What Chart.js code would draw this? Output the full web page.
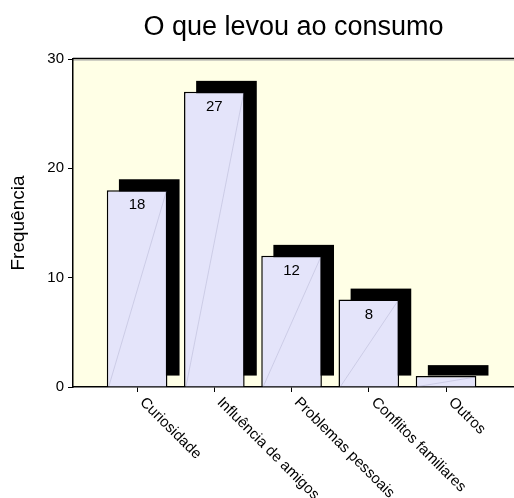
<!DOCTYPE html>
<html>
<head>
<meta charset="utf-8">
<script src="https://cdn.jsdelivr.net/npm/chart.js@4.4.1/dist/chart.umd.min.js"></script>
<style>
  html, body { margin: 0; padding: 0; background: #fff; }
  #wrap { width: 514px; height: 498px; }
</style>
</head>
<body>
<div id="wrap"><canvas id="chart" width="514" height="498"></canvas></div>
<script>
// chart data
const chartTitle = 'O que levou ao consumo';
const axisTitleY = 'Frequência';
const categories = ['Curiosidade', 'Influência de amigos', 'Problemas pessoais', 'Conflitos familiares', 'Outros'];
const frequencies = [18, 27, 12, 8, 1];
const yTicks = [0, 10, 20, 30];

const FONT = '"Liberation Sans", Arial, sans-serif';
const PLOT_BG = '#FFFFE6';
const BAR_FILL = '#E4E4FA';

// yellow plot area + top frame line
const plotBackground = {
  id: 'plotBackground',
  beforeDraw(chart) {
    const { ctx, chartArea: a } = chart;
    ctx.save();
    ctx.fillStyle = '#fff';
    ctx.fillRect(0, 0, chart.width, chart.height);
    ctx.fillStyle = PLOT_BG;
    ctx.fillRect(a.left, a.top, a.right - a.left, a.bottom - a.top);
    ctx.strokeStyle = '#000';
    ctx.lineWidth = 1.5;
    ctx.beginPath();
    ctx.moveTo(a.left, a.top - 0.5);
    ctx.lineTo(a.right, a.top - 0.5);
    ctx.stroke();
    ctx.strokeStyle = '#a0a0a0';
    ctx.lineWidth = 1;
    ctx.beginPath();
    ctx.moveTo(a.left, a.top + 1);
    ctx.lineTo(a.right, a.top + 1);
    ctx.stroke();
    ctx.restore();
  }
};

// black drop shadow behind every bar, shifted right and one unit up
const barShadow = {
  id: 'barShadow',
  beforeDatasetsDraw(chart) {
    const { ctx } = chart;
    const ys = chart.scales.y;
    const up = ys.getPixelForValue(0) - ys.getPixelForValue(1);
    ctx.save();
    ctx.fillStyle = '#000';
    chart.getDatasetMeta(0).data.forEach(bar => {
      const { x, y, base, width } = bar.getProps(['x', 'y', 'base', 'width'], true);
      const dx = width * 0.2;
      ctx.fillRect(x - width / 2 + dx, y - up, width, base - y);
    });
    ctx.restore();
  }
};

// faint diagonal inside bars + value labels
const barDecor = {
  id: 'barDecor',
  afterDatasetsDraw(chart) {
    const { ctx } = chart;
    const meta = chart.getDatasetMeta(0);
    ctx.save();
    meta.data.forEach((bar, i) => {
      const { x, y, base, width } = bar.getProps(['x', 'y', 'base', 'width'], true);
      ctx.strokeStyle = 'rgba(130,130,170,0.5)';
      ctx.lineWidth = 0.5;
      ctx.beginPath();
      ctx.moveTo(x - width / 2 + 2, base);
      ctx.lineTo(x + width / 2 - 1, y + 1);
      ctx.stroke();
      if (base - y > 25) {
        ctx.fillStyle = '#000';
        ctx.font = `15px ${FONT}`;
        ctx.textAlign = 'center';
        ctx.textBaseline = 'middle';
        ctx.fillText(String(frequencies[i]), x, y + 15);
      }
    });
    ctx.restore();
  }
};

// category labels slanted down to the right
const slantedLabels = {
  id: 'slantedLabels',
  afterDraw(chart) {
    const { ctx } = chart;
    const xs = chart.scales.x;
    ctx.save();
    ctx.fillStyle = '#000';
    ctx.font = `15px ${FONT}`;
    ctx.textAlign = 'left';
    ctx.textBaseline = 'middle';
    categories.forEach((c, i) => {
      const px = xs.getPixelForValue(i);
      ctx.save();
      ctx.translate(px + 5, xs.top + 13);
      ctx.rotate(Math.PI / 4);
      ctx.fillText(c, 0, 0);
      ctx.restore();
    });
    ctx.restore();
  }
};

const points = categories.map((c, i) => ({ x: i, y: frequencies[i] }));

new Chart(document.getElementById('chart'), {
  type: 'bar',
  data: {
    datasets: [{
      data: points,
      backgroundColor: BAR_FILL,
      borderColor: '#000',
      borderWidth: 1.5,
      barPercentage: 0.785,
      categoryPercentage: 1
    }]
  },
  options: {
    responsive: false,
    animation: false,
    layout: { padding: 0 },
    plugins: {
      legend: { display: false },
      tooltip: { enabled: false },
      title: {
        display: true,
        text: chartTitle,
        color: '#000',
        fullSize: false,
        font: { family: FONT, size: 27, weight: 'normal', lineHeight: 1.2 },
        padding: { top: 11, bottom: 15.6 }
      }
    },
    scales: {
      x: {
        type: 'linear',
        min: -0.83,
        max: 4.88,
        offset: false,
        afterBuildTicks: s => { s.ticks = categories.map((c, i) => ({ value: i })); },
        afterFit: s => { s.height = 111; },
        ticks: { display: false },
        grid: { offset: false, drawOnChartArea: false, drawTicks: true, tickLength: 5, color: '#000' },
        border: { display: true, color: '#000', width: 1.5 }
      },
      y: {
        min: 0,
        max: 30,
        afterBuildTicks: s => { s.ticks = yTicks.map(v => ({ value: v })); },
        afterFit: s => { s.width = 73; },
        ticks: { color: '#000', padding: 4, font: { family: FONT, size: 15 } },
        grid: { drawOnChartArea: false, drawTicks: true, tickLength: 5, color: '#000' },
        border: { display: true, color: '#000', width: 1.5 },
        title: {
          display: true,
          text: axisTitleY,
          color: '#000',
          padding: { top: 7, bottom: 0 },
          font: { family: FONT, size: 19 }
        }
      }
    }
  },
  plugins: [plotBackground, barShadow, barDecor, slantedLabels]
});
</script>
</body>
</html>
